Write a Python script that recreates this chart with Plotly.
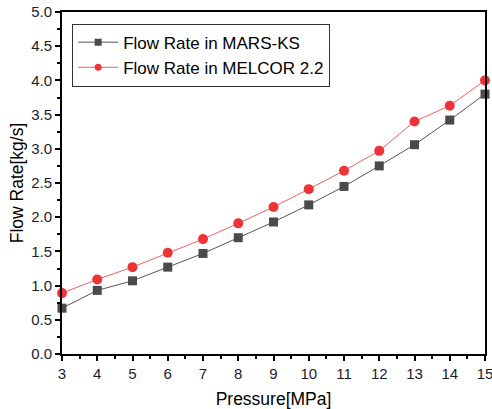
import plotly.graph_objects as go

pressure = [3, 4, 5, 6, 7, 8, 9, 10, 11, 12, 13, 14, 15]
mars_ks = [0.67, 0.93, 1.07, 1.27, 1.47, 1.70, 1.93, 2.18, 2.45, 2.75, 3.06, 3.42, 3.80]
melcor = [0.89, 1.09, 1.27, 1.48, 1.68, 1.91, 2.15, 2.41, 2.68, 2.97, 3.40, 3.63, 4.00]
x_ticks = list(range(3, 16))
y_ticks = [0.0, 0.5, 1.0, 1.5, 2.0, 2.5, 3.0, 3.5, 4.0, 4.5, 5.0]

FONT = "Liberation Sans, Arial"
GRAY_LINE = "#555555"
GRAY_MARK = "#4a4a4a"
RED_LINE = "#f06060"
RED_MARK = "#ee3338"

fig = go.Figure()
fig.add_trace(go.Scatter(
    x=pressure, y=mars_ks, mode="lines+markers", name="Flow Rate in MARS-KS",
    line=dict(color=GRAY_LINE, width=1),
    marker=dict(symbol="square", size=9, color=GRAY_MARK),
    cliponaxis=False, showlegend=False,
))
fig.add_trace(go.Scatter(
    x=pressure, y=melcor, mode="lines+markers", name="Flow Rate in MELCOR 2.2",
    line=dict(color=RED_LINE, width=1),
    marker=dict(symbol="circle", size=10, color=RED_MARK),
    cliponaxis=False, showlegend=False,
))
# legend entries (smaller symbols as in the reference legend)
fig.add_trace(go.Scatter(
    x=[None], y=[None], mode="lines+markers", name="Flow Rate in MARS-KS",
    line=dict(color=GRAY_LINE, width=1),
    marker=dict(symbol="square", size=7, color=GRAY_MARK),
))
fig.add_trace(go.Scatter(
    x=[None], y=[None], mode="lines+markers", name="Flow Rate in MELCOR 2.2",
    line=dict(color=RED_LINE, width=1),
    marker=dict(symbol="circle", size=7, color=RED_MARK),
))

axis_common = dict(
    showgrid=False, zeroline=False, showline=True, linecolor="black", linewidth=2,
    mirror=True, ticks="outside", ticklen=5, tickwidth=2, tickcolor="black",
    tickfont=dict(family=FONT, size=15, color="#1c1c2c"), automargin=False,
    ticklabeloverflow="allow",
)

fig.update_xaxes(
    range=[3, 15], tickvals=x_ticks, ticktext=[str(v) for v in x_ticks],
    title=dict(text="Pressure[MPa]", font=dict(family=FONT, size=17.5, color="black"), standoff=14),
    minor=dict(ticks="outside", ticklen=3, tickwidth=2, tickcolor="black", dtick=0.5),
    **axis_common,
)
fig.update_yaxes(
    range=[0, 5], tickvals=y_ticks, ticktext=[f"{v:.1f}" for v in y_ticks],
    title=dict(text="Flow Rate[kg/s]", font=dict(family=FONT, size=17.5, color="black"), standoff=3),
    minor=dict(ticks="outside", ticklen=3, tickwidth=2, tickcolor="black", dtick=0.25),
    **axis_common,
)

fig.update_layout(
    width=492, height=409,
    margin=dict(l=62, r=7, t=12, b=55),
    paper_bgcolor="white", plot_bgcolor="white",
    font=dict(family=FONT, color="black"),
    legend=dict(
        x=0.024, y=0.966, xanchor="left", yanchor="top",
        bordercolor="#333333", borderwidth=1, bgcolor="white",
        font=dict(family=FONT, size=17, color="black"),
        tracegroupgap=0, itemwidth=40,
    ),
)

fig.write_html(
    "out.html",
    config={"displayModeBar": False},
    post_script="document.body.style.margin='0';document.body.style.overflow='hidden';",
)
